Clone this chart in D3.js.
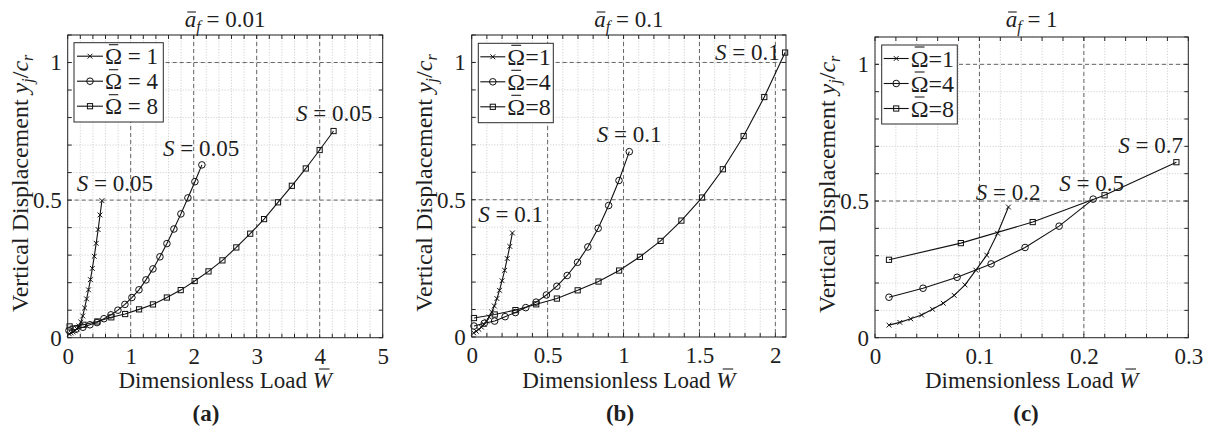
<!DOCTYPE html>
<html>
<head>
<meta charset="utf-8">
<script src="https://cdn.jsdelivr.net/npm/d3@7"></script>
<style>
  body { margin: 0; background: #fff; }
  svg text { font-family: "Liberation Serif", "Times New Roman", serif; fill: #1e1e1e; }
</style>
</head>
<body>
<svg id="fig" width="1213" height="430"></svg>
<script>
// ---------- data: dimensionless load W and vertical displacement y_j/c_r ----------
// panel (a): a_f = 0.01
const loadA_om1 = [0.025,0.056,0.086,0.117,0.147,0.178,0.208,0.239,0.269,0.300,0.330,0.361,0.391,0.422,0.452,0.483,0.513,0.544];
const dispA_om1 = [0.014,0.017,0.021,0.026,0.032,0.042,0.057,0.079,0.108,0.141,0.174,0.211,0.252,0.296,0.343,0.393,0.446,0.498];
const loadA_om4 = [0.020,0.131,0.242,0.353,0.464,0.575,0.686,0.797,0.908,1.019,1.131,1.242,1.353,1.464,1.575,1.686,1.797,1.908,2.019,2.130];
const dispA_om4 = [0.026,0.031,0.038,0.047,0.055,0.069,0.083,0.100,0.121,0.146,0.174,0.210,0.250,0.294,0.342,0.395,0.450,0.508,0.567,0.628];
const loadA_om8 = [0.030,0.251,0.471,0.692,0.912,1.133,1.353,1.574,1.794,2.015,2.235,2.456,2.676,2.897,3.117,3.338,3.558,3.779,3.999,4.220];
const dispA_om8 = [0.041,0.047,0.059,0.074,0.086,0.103,0.121,0.146,0.173,0.206,0.241,0.281,0.328,0.378,0.431,0.492,0.552,0.615,0.682,0.751];

// panel (b): a_f = 0.1
const loadB_om1 = [0.013,0.030,0.047,0.064,0.081,0.098,0.115,0.132,0.149,0.166,0.183,0.200,0.217,0.234,0.251,0.268];
const dispB_om1 = [0.015,0.021,0.028,0.036,0.046,0.058,0.073,0.091,0.113,0.140,0.170,0.205,0.243,0.286,0.330,0.379];
const loadB_om4 = [0.015,0.083,0.151,0.220,0.288,0.356,0.424,0.492,0.561,0.629,0.697,0.765,0.833,0.902,0.970,1.038];
const dispB_om4 = [0.040,0.050,0.058,0.074,0.089,0.107,0.127,0.153,0.185,0.224,0.272,0.328,0.396,0.479,0.570,0.675];
const loadB_om8 = [0.015,0.152,0.288,0.425,0.561,0.698,0.835,0.971,1.108,1.244,1.381,1.517,1.654,1.791,1.927,2.064];
const dispB_om8 = [0.069,0.082,0.098,0.119,0.140,0.170,0.202,0.242,0.292,0.350,0.424,0.508,0.611,0.732,0.874,1.036];

// panel (c): a_f = 1
const loadC_om1 = [0.0134,0.0238,0.0342,0.0446,0.0550,0.0654,0.0758,0.0862,0.0966,0.1070,0.1174,0.1278];
const dispC_om1 = [0.046,0.056,0.069,0.083,0.104,0.126,0.155,0.193,0.247,0.302,0.382,0.478];
const loadC_om4 = [0.0134,0.0460,0.0786,0.1112,0.1437,0.1763,0.2089];
const dispC_om4 = [0.148,0.181,0.221,0.270,0.330,0.408,0.507];
const loadC_om8 = [0.0134,0.0822,0.1510,0.2198,0.2886];
const dispC_om8 = [0.285,0.346,0.423,0.521,0.642];

// speeds and tick labels
const omegas = [1, 4, 8];
const afValues = ["0.01", "0.1", "1"];
const xTicksA = [0, 1, 2, 3, 4, 5];
const xTicksB = [0, 0.5, 1, 1.5, 2];
const xTicksC = [0, 0.1, 0.2, 0.3];
const yTicks = [0, 0.5, 1];
const sLabelsA = ["0.05", "0.05", "0.05"];
const sLabelsB = ["0.1", "0.1", "0.1"];
const sLabelsC = ["0.2", "0.5", "0.7"];
const panelTags = ["(a)", "(b)", "(c)"];

// ---------- layout ----------
const FS = 23;
const panels = [
  { left: 67.7, right: 382.7, top: 35, bottom: 337.7, xMax: 5, xTicks: xTicksA, xMinor: 0.2,
    series: [[loadA_om1, dispA_om1], [loadA_om4, dispA_om4], [loadA_om8, dispA_om8]],
    notes: [[0.143, 0.533], [1.513, 0.660], [3.624, 0.786]], sLabels: sLabelsA,
    legend: { dx: 6.3, dy: 7.7, w: 89.3, h: 79.3, spaced: true, lineL: 3, lineR: 29, textX: 31, fs: 23 },
    tagX: 206 },
  { left: 471.7, right: 786, top: 35, bottom: 337, xMax: 2.07, xTicks: xTicksB, xMinor: 0.1,
    series: [[loadB_om1, dispB_om1], [loadB_om4, dispB_om4], [loadB_om8, dispB_om8]],
    notes: [[0.043, 0.419], [0.823, 0.712], [1.603, 1.009]], sLabels: sLabelsB,
    legend: { dx: 6.6, dy: 8.3, w: 75, h: 79.4, spaced: false, lineL: 2, lineR: 27, textX: 29, fs: 24 },
    tagX: 620 },
  { left: 875, right: 1188.3, top: 37, bottom: 337.7, xMax: 0.3, xTicks: xTicksC, xMinor: 0.02,
    series: [[loadC_om1, dispC_om1], [loadC_om4, dispC_om4], [loadC_om8, dispC_om8]],
    notes: [[0.0964, 0.504], [0.1765, 0.535], [0.233, 0.676]], sLabels: sLabelsC,
    legend: { dx: 6.7, dy: 8, w: 75.6, h: 79, spaced: false, lineL: 2, lineR: 27, textX: 29, fs: 24 },
    tagX: 1026 }
];
const markerKinds = ["cross", "circle", "square"];
const fig = d3.select("#fig");

function drawMarker(sel, kind, cx, cy) {
  if (kind === "circle") {
    sel.append("circle").attr("cx", cx).attr("cy", cy).attr("r", 3.3)
      .attr("fill", "none").attr("stroke", "#111").attr("stroke-width", 1);
  } else if (kind === "square") {
    sel.append("rect").attr("x", cx - 2.6).attr("y", cy - 2.6).attr("width", 5.2).attr("height", 5.2)
      .attr("fill", "none").attr("stroke", "#111").attr("stroke-width", 1);
  } else {
    const s = 2.4;
    sel.append("path").attr("d", `M${cx - s},${cy - s}L${cx + s},${cy + s}M${cx - s},${cy + s}L${cx + s},${cy - s}`)
      .attr("stroke", "#111").attr("stroke-width", 1).attr("fill", "none");
  }
}

// bar accent over one character of a text element
function overbar(parent, textSel, idx, baseY, lift, frac, shift) {
  const ext = textSel.node().getExtentOfChar(idx);
  const c = ext.x + ext.width / 2 + (shift || 0);
  const half = ext.width * frac / 2;
  parent.append("line").attr("x1", c - half).attr("x2", c + half)
    .attr("y1", baseY - lift).attr("y2", baseY - lift)
    .attr("stroke", "#1e1e1e").attr("stroke-width", 1.1);
}

panels.forEach((p, pi) => {
  const g = fig.append("g");
  const x = d3.scaleLinear().domain([0, p.xMax]).range([p.left, p.right]);
  const y = d3.scaleLinear().domain([0, 1.1]).range([p.bottom, p.top]);
  const eps = 1e-9;
  const xMinor = d3.range(0, p.xMax + eps, p.xMinor);
  const yMinor = d3.range(0, 1.1 + eps, 0.1);
  const xMajor = p.xTicks.filter(d => d > 0 && d < p.xMax - eps);
  const yMajor = yTicks.filter(d => d > 0);

  // minor grid
  const grid = g.append("g");
  grid.selectAll(".mx").data(xMinor).join("line")
    .attr("x1", d => x(d)).attr("x2", d => x(d)).attr("y1", p.top).attr("y2", p.bottom)
    .attr("stroke", "#c8c8c8").attr("stroke-width", 0.8).attr("stroke-dasharray", "1.2,1.6");
  grid.selectAll(".my").data(yMinor).join("line")
    .attr("y1", d => y(d)).attr("y2", d => y(d)).attr("x1", p.left).attr("x2", p.right)
    .attr("stroke", "#c8c8c8").attr("stroke-width", 0.8).attr("stroke-dasharray", "1.2,1.6");
  // major grid
  grid.selectAll(".Mx").data(xMajor).join("line")
    .attr("x1", d => x(d)).attr("x2", d => x(d)).attr("y1", p.top).attr("y2", p.bottom)
    .attr("stroke", "#666").attr("stroke-width", 1).attr("stroke-dasharray", "4,3");
  grid.selectAll(".My").data(yMajor).join("line")
    .attr("y1", d => y(d)).attr("y2", d => y(d)).attr("x1", p.left).attr("x2", p.right)
    .attr("stroke", "#666").attr("stroke-width", 1).attr("stroke-dasharray", "4,3");

  // data lines and markers
  const line = d3.line().x(d => x(d[0])).y(d => y(d[1]));
  p.series.forEach((s, si) => {
    const pts = s[0].map((w, i) => [w, s[1][i]]);
    g.append("path").attr("d", line(pts)).attr("fill", "none").attr("stroke", "#111").attr("stroke-width", 1.1);
    const mg = g.append("g");
    pts.forEach(d => drawMarker(mg, markerKinds[si], x(d[0]), y(d[1])));
  });

  // S annotations
  p.notes.forEach((n, i) => {
    const t = g.append("text").attr("x", x(n[0])).attr("y", y(n[1])).attr("font-size", FS);
    t.append("tspan").attr("font-style", "italic").text("S");
    t.append("tspan").text(" = " + p.sLabels[i]);
  });

  // legend
  const L = p.legend;
  const lx = p.left + L.dx, ly = p.top + L.dy;
  const lg = g.append("g");
  lg.append("rect").attr("x", lx).attr("y", ly).attr("width", L.w).attr("height", L.h)
    .attr("fill", "#fff").attr("stroke", "#2a2a2a").attr("stroke-width", 1);
  omegas.forEach((om, i) => {
    const ry = ly + 13.5 + 25 * i;
    lg.append("line").attr("x1", lx + L.lineL).attr("x2", lx + L.lineR).attr("y1", ry).attr("y2", ry)
      .attr("stroke", "#111").attr("stroke-width", 1.1);
    drawMarker(lg, markerKinds[i], lx + (L.lineL + L.lineR) / 2, ry);
    const t = lg.append("text").attr("x", lx + L.textX).attr("y", ry + 8).attr("font-size", L.fs);
    t.append("tspan").text("Ω");
    t.append("tspan").text(L.spaced ? " = " + om : "=" + om);
    overbar(lg, t, 0, ry + 8, 19.5, 0.55, 0);
  });

  // axes box
  g.append("rect").attr("x", p.left).attr("y", p.top).attr("width", p.right - p.left).attr("height", p.bottom - p.top)
    .attr("fill", "none").attr("stroke", "#262626").attr("stroke-width", 1);

  // inward ticks on all four sides
  const tk = g.append("g").attr("stroke", "#262626").attr("stroke-width", 1);
  xMinor.forEach(d => {
    tk.append("line").attr("x1", x(d)).attr("x2", x(d)).attr("y1", p.bottom).attr("y2", p.bottom - 4);
    tk.append("line").attr("x1", x(d)).attr("x2", x(d)).attr("y1", p.top).attr("y2", p.top + 4);
  });
  yMinor.forEach(d => {
    tk.append("line").attr("y1", y(d)).attr("y2", y(d)).attr("x1", p.left).attr("x2", p.left + 4);
    tk.append("line").attr("y1", y(d)).attr("y2", y(d)).attr("x1", p.right).attr("x2", p.right - 4);
  });

  // tick labels
  const ax = g.append("g").attr("transform", `translate(0,${p.bottom})`)
    .call(d3.axisBottom(x).tickValues(p.xTicks).tickFormat(d => String(d)).tickSize(0).tickPadding(10));
  const ay = g.append("g").attr("transform", `translate(${p.left},0)`)
    .call(d3.axisLeft(y).tickValues(yTicks).tickFormat(d => String(d)).tickSize(0).tickPadding(6));
  [ax, ay].forEach(a => {
    a.select(".domain").remove();
    a.selectAll("text").attr("font-size", FS).attr("font-family", null).attr("fill", "#1e1e1e");
    a.attr("font-family", null);
  });

  const cx = (p.left + p.right) / 2;
  // title
  const title = g.append("text").attr("x", cx).attr("y", 27).attr("font-size", FS).attr("text-anchor", "middle");
  title.append("tspan").attr("font-style", "italic").text("a");
  title.append("tspan").attr("font-style", "italic").attr("font-size", 16).attr("dy", 5).text("f");
  title.append("tspan").attr("dy", -5).text(" = " + afValues[pi]);
  overbar(g, title, 0, 27, 15, 0.75, 1);

  // x label
  const xl = g.append("text").attr("x", cx).attr("y", 388).attr("font-size", FS).attr("text-anchor", "middle");
  const xPre = "Dimensionless Load ";
  xl.append("tspan").text(xPre);
  xl.append("tspan").attr("font-style", "italic").text("W");
  overbar(g, xl, xPre.length, 388, 19, 0.55, 2);

  // y label
  const yl = g.append("text").attr("transform", `translate(${p.left - 40},${(p.top + p.bottom) / 2 - 3}) rotate(-90)`)
    .attr("font-size", 24).attr("text-anchor", "middle");
  yl.append("tspan").text("Vertical Displacement ");
  yl.append("tspan").attr("font-style", "italic").text("y");
  yl.append("tspan").attr("font-style", "italic").attr("font-size", 16).attr("dy", 5).text("j");
  yl.append("tspan").attr("dy", -5).text("/");
  yl.append("tspan").attr("font-style", "italic").text("c");
  yl.append("tspan").attr("font-style", "italic").attr("font-size", 16).attr("dy", 5).text("r");

  // panel tag
  g.append("text").attr("x", p.tagX).attr("y", 421).attr("font-size", FS).attr("font-weight", "bold")
    .attr("text-anchor", "middle").text(panelTags[pi]);
});
</script>
</body>
</html>
